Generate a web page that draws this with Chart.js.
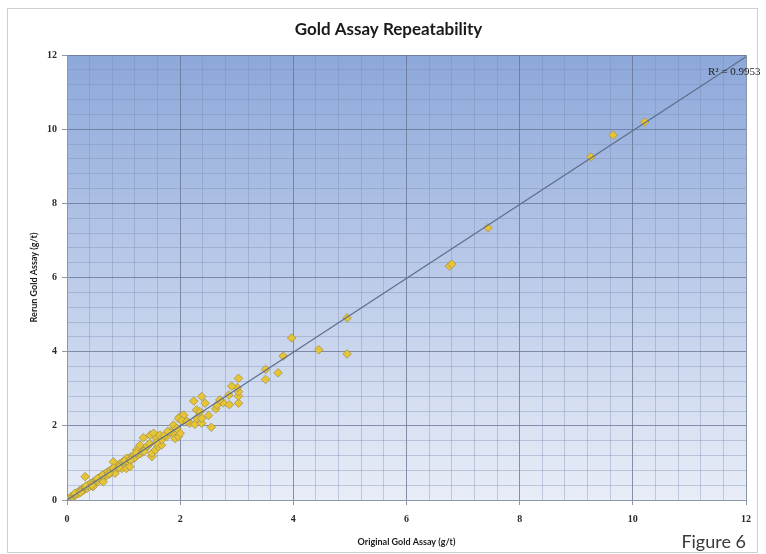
<!DOCTYPE html>
<html>
<head>
<meta charset="utf-8">
<script src="https://cdn.jsdelivr.net/npm/chart.js@4.4.1/dist/chart.umd.min.js"></script>
<style>
  html, body { margin: 0; padding: 0; background: #ffffff; }
  canvas { display: block; }
</style>
</head>
<body>
<canvas id="chart" width="766" height="554"></canvas>
<script>
// Text
const chartTitle = 'Gold Assay Repeatability';
const xAxisTitle = 'Original Gold Assay (g/t)';
const yAxisTitle = 'Rerun Gold Assay (g/t)';
const figureLabel = 'Figure 6';
const r2Label = 'R\u00B2 = 0.9953';

// Axis range and grid spacing (g/t)
const axisMin = 0;
const axisMax = 12;
const majorStep = 2;
const minorStep = 0.4;

// Original assay (x) and rerun assay (y), paired by index
const originalAssay = [
  0.02, 0.05, 0.08, 0.10, 0.12, 0.15, 0.18, 0.20, 0.22, 0.25,
  0.27, 0.30, 0.32, 0.35, 0.38, 0.40, 0.42, 0.45, 0.47, 0.50,
  0.52, 0.55, 0.57, 0.60, 0.62, 0.65, 0.68, 0.70, 0.72, 0.75,
  0.78, 0.80, 0.83, 0.85, 0.88, 0.90, 0.93, 0.95, 0.98, 1.00,
  1.03, 1.05, 1.08, 1.10, 1.13, 1.15, 1.18, 1.20, 1.25, 1.28,
  1.30,
  0.32, 0.46, 0.64, 0.85, 0.97, 0.82, 1.05, 1.05, 1.11, 1.05,
  1.23, 1.29, 1.35, 1.44, 1.50, 1.50, 1.56, 1.61, 1.67, 1.47,
  1.53, 1.58, 1.67, 1.64, 1.76, 1.88, 1.91, 1.97, 2.00, 1.82,
  1.88, 1.94, 2.00, 2.06, 1.97, 2.03, 2.55, 2.17, 2.26, 2.38,
  2.29, 2.29, 2.38, 2.50, 2.24, 2.35, 2.44, 2.38, 2.63, 2.65,
  2.76, 2.87, 3.03, 2.86, 3.03, 3.03, 3.01, 2.91, 3.03, 3.51,
  3.51, 3.73, 3.82, 3.97, 4.45, 4.95, 4.95, 6.76, 6.80, 7.44,
  9.26, 9.65, 10.21, 1.38, 1.42, 1.72, 1.78, 2.12, 2.70, 1.33,
  0.14, 0.24, 0.34, 0.44, 0.54, 0.63, 0.74, 0.82, 0.92, 1.02,
  1.12, 1.22, 1.36, 1.46, 1.58
];
const rerunAssay = [
  0.00, 0.05, 0.10, 0.08, 0.14, 0.13, 0.20, 0.17, 0.25, 0.22,
  0.30, 0.27, 0.35, 0.31, 0.40, 0.37, 0.45, 0.41, 0.50, 0.46,
  0.55, 0.50, 0.60, 0.56, 0.66, 0.60, 0.72, 0.66, 0.76, 0.70,
  0.82, 0.76, 0.88, 0.80, 0.93, 0.86, 0.97, 0.90, 1.02, 0.96,
  1.07, 1.00, 1.12, 1.05, 1.16, 1.10, 1.20, 1.14, 1.22, 1.30,
  1.25,
  0.63, 0.36, 0.49, 0.72, 0.85, 1.03, 0.94, 0.85, 0.90, 1.12,
  1.35, 1.48, 1.68, 1.48, 1.17, 1.26, 1.35, 1.44, 1.48, 1.75,
  1.80, 1.66, 1.62, 1.75, 1.71, 1.80, 1.66, 1.71, 1.80, 1.84,
  2.02, 1.93, 2.25, 2.29, 2.20, 2.14, 1.96, 2.07, 2.04, 2.07,
  2.43, 2.20, 2.20, 2.28, 2.67, 2.38, 2.61, 2.79, 2.46, 2.56,
  2.62, 2.57, 2.61, 2.83, 2.80, 2.92, 3.03, 3.07, 3.28, 3.25,
  3.52, 3.43, 3.88, 4.37, 4.05, 3.94, 4.91, 6.31, 6.36, 7.34,
  9.25, 9.84, 10.19, 1.38, 1.46, 1.74, 1.85, 2.12, 2.70, 1.30,
  0.18, 0.21, 0.38, 0.40, 0.58, 0.67, 0.71, 0.86, 0.88, 1.06,
  1.08, 1.27, 1.31, 1.52, 1.55
];

// Linear trendline (rerun vs original)
const trendSlope = 0.996;
const trendIntercept = 0.0;
const trendX = [0, 12];

const assayPoints = originalAssay.map((x, i) => ({ x: x, y: rerunAssay[i] }));
const trendPoints = trendX.map(x => ({ x: x, y: trendIntercept + trendSlope * x }));

const isMajor = v => Math.abs(v / majorStep - Math.round(v / majorStep)) < 1e-6;

const MAJOR_GRID = 'rgba(100,114,142,0.75)';
const MINOR_GRID = 'rgba(120,140,180,0.38)';

// Page frame, plot-area gradient fill
const backdrop = {
  id: 'backdrop',
  beforeDraw(chart) {
    const { ctx, chartArea: a, width, height } = chart;
    ctx.save();
    ctx.fillStyle = '#ffffff';
    ctx.fillRect(0, 0, width, height);
    ctx.strokeStyle = '#cfcfcf';
    ctx.lineWidth = 1;
    ctx.strokeRect(7.5, 8.5, 750, 544);
    const g = ctx.createLinearGradient(0, a.top, 0, a.bottom);
    g.addColorStop(0, '#8ca8da');
    g.addColorStop(0.5, '#bccbe9');
    g.addColorStop(1, '#e8edf7');
    ctx.fillStyle = g;
    ctx.fillRect(a.left, a.top, a.right - a.left, a.bottom - a.top);
    ctx.restore();
  }
};

// Chart title, R² annotation and figure caption
const captions = {
  id: 'captions',
  afterDraw(chart) {
    const { ctx, chartArea: a } = chart;
    ctx.save();
    ctx.fillStyle = '#1a1a1a';
    ctx.font = 'bold 17px Lato, "Open Sans", sans-serif';
    ctx.textAlign = 'center';
    ctx.textBaseline = 'middle';
    ctx.fillText(chartTitle, (a.left + a.right) / 2 - 18, 30);

    ctx.font = '11px "Liberation Serif", "DejaVu Serif", serif';
    ctx.fillStyle = '#222222';
    ctx.textAlign = 'left';
    ctx.fillText(r2Label, a.right - 38, a.top + 17);

    ctx.font = '18px Lato, "Open Sans", sans-serif';
    ctx.fillStyle = '#3a3a3a';
    ctx.textAlign = 'right';
    ctx.fillText(figureLabel, a.right, 542);
    ctx.restore();
  }
};

const axisCommon = {
  type: 'linear',
  min: axisMin,
  max: axisMax,
  border: { color: '#8c97aa', width: 1 },
  grid: {
    color: c => isMajor(c.tick.value) ? MAJOR_GRID : MINOR_GRID,
    tickColor: c => isMajor(c.tick.value) ? '#8c97aa' : 'rgba(0,0,0,0)',
    tickLength: 5,
    lineWidth: 1
  },
  ticks: {
    stepSize: minorStep,
    autoSkip: false,
    maxRotation: 0,
    color: '#2a2a2a',
    font: { family: '"Liberation Serif", "DejaVu Serif", serif', size: 10, weight: 'bold' },
    callback: v => isMajor(v) ? String(Math.round(v)) : ''
  }
};

new Chart(document.getElementById('chart'), {
  type: 'scatter',
  data: {
    datasets: [
      {
        label: 'Assay pairs',
        data: assayPoints,
        pointStyle: 'rectRot',
        pointRadius: 4.3,
        pointHoverRadius: 4.3,
        backgroundColor: '#e6c433',
        borderColor: '#a3944f',
        borderWidth: 0.8,
        order: 2
      },
      {
        type: 'line',
        label: 'Linear trend',
        data: trendPoints,
        borderColor: '#5f6f8c',
        borderWidth: 1.2,
        pointRadius: 0,
        fill: false,
        order: 1
      }
    ]
  },
  options: {
    responsive: false,
    animation: false,
    layout: { padding: { left: 7, right: 20, top: 55, bottom: 7 } },
    plugins: {
      legend: { display: false },
      title: { display: false },
      tooltip: { enabled: false }
    },
    scales: {
      x: Object.assign({}, axisCommon, {
        position: 'bottom',
        ticks: Object.assign({}, axisCommon.ticks, { padding: 8 }),
        title: {
          display: true,
          text: xAxisTitle,
          color: '#1a1a1a',
          font: { family: 'Lato, "Open Sans", sans-serif', size: 9, weight: 'bold' },
          padding: { top: 0, bottom: 0 }
        },
        afterFit(s) { s.height = 47; }
      }),
      y: Object.assign({}, axisCommon, {
        position: 'left',
        ticks: Object.assign({}, axisCommon.ticks, { padding: 5 }),
        title: {
          display: true,
          text: yAxisTitle,
          color: '#1a1a1a',
          font: { family: 'Lato, "Open Sans", sans-serif', size: 9, weight: 'bold' },
          padding: { top: 22, bottom: 0 }
        },
        afterFit(s) { s.width = 60; }
      })
    }
  },
  plugins: [backdrop, captions]
});
</script>
</body>
</html>
